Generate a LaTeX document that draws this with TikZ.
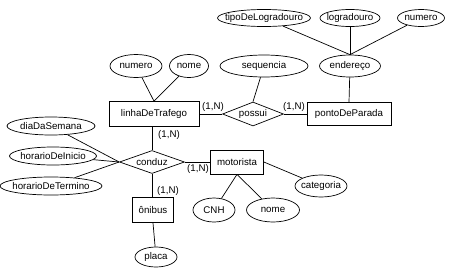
\documentclass[tikz,border=0pt]{standalone}
\usepackage{fontspec}
\setmainfont{Liberation Sans}
\usepackage{xcolor}
\usepackage{tikz}
\usetikzlibrary{positioning,shapes.geometric}
\definecolor{derInk}{HTML}{000000}
\tikzset{
  % Shared look of the ER figure: plain boxes, ellipses and diamonds.
  der/base/.style={
    font=\rmfamily\fontsize{8.3pt}{9.3pt}\selectfont,
    text=derInk,
    line width=.6pt
  },
  der/entity/.style={
    rectangle,
    draw=derInk,
    fill=white,
    inner sep=0pt
  },
  % negative inner sep: the given size, not the text, fixes the ellipse
  der/attribute/.style={
    ellipse,
    draw=derInk,
    fill=white,
    inner xsep=-7pt,
    inner ysep=-3pt
  },
  der/relation/.style={
    diamond,
    draw=derInk,
    fill=white,
    inner xsep=-6pt,
    inner ysep=-3pt
  },
  der/card/.style={
    font=\rmfamily\fontsize{8.3pt}{9.3pt}\selectfont,
    inner sep=0pt
  },
  der/link/.style={
    draw=derInk,
    line width=.6pt
  }
}

\begin{document}
\begin{tikzpicture}[
  der/base,x=.03cm,y=-.03cm,
  entity/.style={der/entity},
  attr/.style={der/attribute},
  rel/.style={der/relation},
  card/.style={der/card},
  link/.style={der/link}
]
  \path[use as bounding box] (0,0) rectangle (450,276);

  % entities
  \node[entity,minimum width=90*.03cm,minimum height=25*.03cm] (linha) at (154,114) {linhaDeTrafego};
  \node[entity,minimum width=84*.03cm,minimum height=23*.03cm] (ponto) at (349,114) {pontoDeParada};
  \node[entity,minimum width=53*.03cm,minimum height=24*.03cm] (motorista) at (237,162) {motorista};
  \node[entity,minimum width=41*.03cm,minimum height=25*.03cm] (onibus) at (153,210) {ônibus};

  % relationships
  \node[rel,minimum width=61*.03cm,minimum height=24*.03cm] (possui) at (253,114) {possui};
  \node[rel,minimum width=65*.03cm,minimum height=23*.03cm] (conduz) at (152,162) {conduz};

  % attributes
  \foreach \name/\xx/\yy/\ww/\hh/\lab in {
    tipo/264/18/93/17/tipoDeLogradouro,
    logradouro/350/18/60/17/logradouro,
    numeroEnd/421/18/47/17/numero,
    endereco/350/66/61/22/endereço,
    sequencia/264/66/88/22/sequencia,
    numeroLinha/136/66/52/23/numero,
    nomeLinha/189/66/39/23/nome,
    dia/51/126/88/18/diaDaSemana,
    inicio/53/156/87/18/horarioDeInicio,
    termino/51/186/102/18/horarioDeTermino,
    categoria/321/186/52/22/categoria,
    cnh/214/210/42/24/CNH,
    nomeMot/273/210/53/24/nome,
    placa/156/257/42/20/placa}
    \node[attr,minimum width=\ww*.03cm,minimum height=\hh*.03cm] (\name) at (\xx,\yy) {\lab};

  % attribute links
  \foreach \from/\to in {tipo/endereco.north,logradouro/endereco.north,
    numeroEnd/endereco.north,endereco/ponto.north,sequencia/possui.north,
    numeroLinha/linha.north,nomeLinha/linha.north,
    dia/conduz.west,inicio/conduz.west,termino/conduz.west,
    categoria/motorista.east,cnh/motorista.south,nomeMot/motorista.south,
    placa/onibus.south}
    \draw[link] (\from) -- (\to);

  % relationship links
  \draw[link] (linha.east) -- (possui.west);
  \draw[link] (possui.east) -- (ponto.west);
  \draw[link] (conduz.north) -- (conduz.north |- linha.south);
  \draw[link] (conduz.south) -- (conduz.south |- onibus.north);
  \draw[link] (conduz.east) -- (motorista.west);

  % cardinalities
  \node[card] (cardLinhaPossui) at (213,107) {(1,N)};
  \node[card] (cardPontoPossui) at (294,107) {(1,N)};
  \node[card] (cardLinhaConduz) at (169,135) {(1,N)};
  \node[card] (cardOnibusConduz) at (168,191) {(1,N)};
  \node[card] (cardMotConduz) at (198,169) {(1,N)};
\end{tikzpicture}
\end{document}
